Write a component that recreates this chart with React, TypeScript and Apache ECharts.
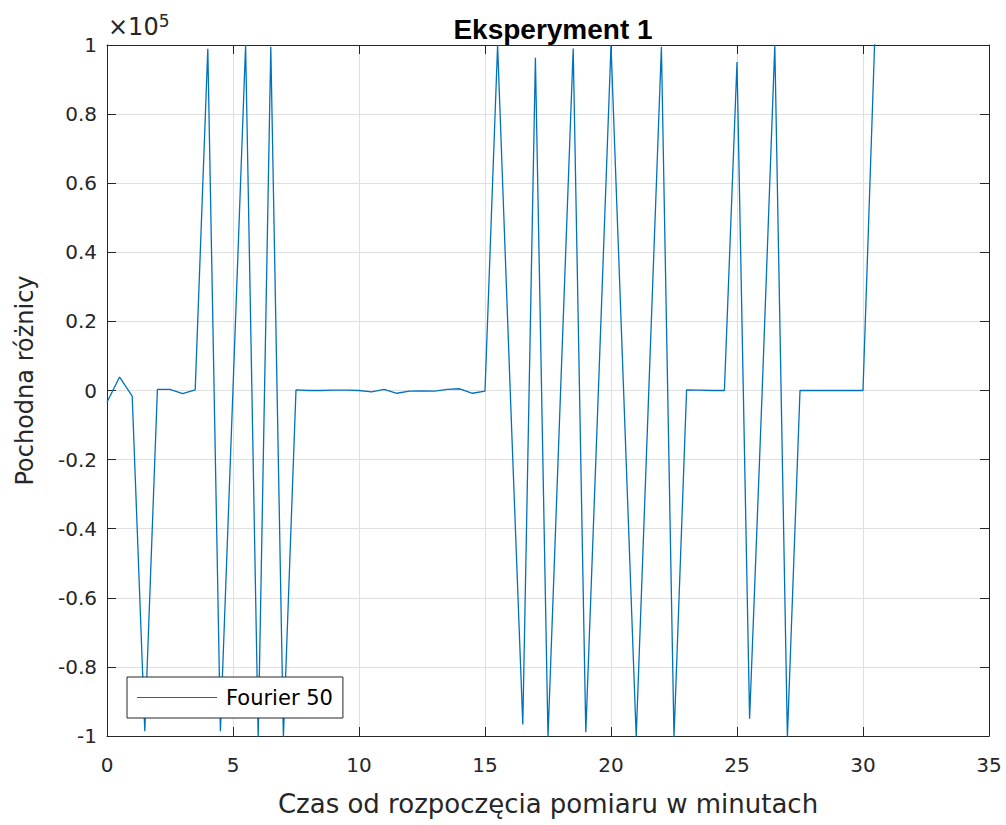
import React, { useEffect, useRef } from "react";
import * as echarts from "echarts";

const times: number[] = [
  0, 0.5, 1, 1.5, 2, 2.5, 3, 3.5, 4, 4.5, 5, 5.5, 6, 6.5, 7, 7.5, 8, 8.5, 9, 9.5,
  10, 10.5, 11, 11.5, 12, 12.5, 13, 13.5, 14, 14.5, 15, 15.5, 16, 16.5, 17, 17.5,
  18, 18.5, 19, 19.5, 20, 20.5, 21, 21.5, 22, 22.5, 23, 23.5, 24, 24.5, 25, 25.5,
  26, 26.5, 27, 27.5, 28, 28.5, 29, 29.5, 30, 30.5,
];

const fourier50: number[] = [
  -3400, 3900, -1600, -98600, 300, 300, -900, 200, 98900, -98600, 500, 100000,
  -100500, 99500, -100300, 200, 0, 0, 100, 100, 0, -400, 300, -800, -200, -100,
  -200, 300, 500, -800, -200, 100000, 0, -96700, 96300, -100300, 0, 99000, -98900,
  0, 100000, 0, -100300, 0, 99500, -100300, 200, 100, 0, 0, 95100, -95000, 0,
  100000, -100300, 0, 0, 0, 0, 0, 0, 109000,
];

const seriesName = "Fourier 50";
const titleText = "Eksperyment 1";
const xLabel = "Czas od rozpoczęcia pomiaru w minutach";
const yLabel = "Pochodna różnicy";

const FONT = "'DejaVu Sans', 'Liberation Sans', Arial, sans-serif";
const AX = "#262626";
const GRID = "#dfdfdf";

export default function App() {
  const ref = useRef<HTMLDivElement>(null);
  useEffect(() => {
    document.body.style.margin = "0";
    if (!ref.current) return;
    const chart = echarts.init(ref.current, undefined, { renderer: "svg" });
    const data = times.map((t, i) => [t, fourier50[i]]);
    const left = 107, right = 17, top = 45, bottom = 89;
    const tickCommon = {
      show: true,
      inside: true,
      length: 9,
      lineStyle: { color: AX, width: 1 },
    };
    chart.setOption({
      animation: false,
      backgroundColor: "#ffffff",
      title: {
        text: titleText,
        left: 548,
        top: 10,
        textAlign: "center",
        textStyle: {
          fontFamily: "'Liberation Sans', Arial, sans-serif",
          fontWeight: "bold",
          fontSize: 28,
          color: "#000",
        },
      },
      grid: { left, right, top, bottom, containLabel: false },
      legend: {
        left: 127,
        top: 677,
        orient: "horizontal",
        itemWidth: 80,
        itemHeight: 14,
        padding: [10, 10, 10, 10],
        borderColor: AX,
        borderWidth: 1,
        borderRadius: 0,
        backgroundColor: "#ffffff",
        textStyle: { fontFamily: FONT, fontSize: 21, color: "#000", padding: [0, 0, 0, 4] },
        data: [{ name: seriesName, icon: "path://M0,0 L80,0 L80,1 L0,1 Z" }],
      },
      xAxis: [
        {
          type: "value",
          min: 0,
          max: 35,
          interval: 5,
          position: "bottom",
          name: xLabel,
          nameLocation: "middle",
          nameGap: 55,
          nameTextStyle: { fontFamily: FONT, fontSize: 26, color: AX },
          axisLine: { show: true, onZero: false, lineStyle: { color: AX, width: 1 } },
          axisTick: tickCommon,
          axisLabel: { fontFamily: FONT, fontSize: 20, color: AX, margin: 19 },
          splitLine: { show: true, lineStyle: { color: GRID, width: 1 } },
        },
        {
          type: "value",
          min: 0,
          max: 35,
          interval: 5,
          position: "top",
          axisLine: { show: true, onZero: false, lineStyle: { color: AX, width: 1 } },
          axisTick: tickCommon,
          axisLabel: { show: false },
          splitLine: { show: false },
        },
      ],
      yAxis: [
        {
          type: "value",
          min: -100000,
          max: 100000,
          interval: 20000,
          position: "left",
          name: yLabel,
          nameLocation: "middle",
          nameGap: 70,
          nameRotate: 90,
          nameTextStyle: { fontFamily: FONT, fontSize: 24, color: AX, padding: [0, 0, 0, 20] },
          axisLine: { show: true, onZero: false, lineStyle: { color: AX, width: 1 } },
          axisTick: tickCommon,
          axisLabel: {
            fontFamily: FONT,
            fontSize: 20,
            color: AX,
            margin: 10,
            formatter: (v: number) => {
              if (v === 0) return "0";
              const s = Math.round(v / 10000) / 10;
              return String(s);
            },
          },
          splitLine: { show: true, lineStyle: { color: GRID, width: 1 } },
        },
        {
          type: "value",
          min: -100000,
          max: 100000,
          interval: 20000,
          position: "right",
          axisLine: { show: true, onZero: false, lineStyle: { color: AX, width: 1 } },
          axisTick: tickCommon,
          axisLabel: { show: false },
          splitLine: { show: false },
        },
      ],
      graphic: [
        {
          type: "text",
          left: 108,
          top: 12,
          style: {
            text: "×10{sup|5}",
            fontFamily: FONT,
            fontSize: 24,
            fill: AX,
            rich: {
              sup: {
                fontFamily: FONT,
                fontSize: 17,
                fill: AX,
                verticalAlign: "top",
                padding: [0, 0, 12, 0],
              },
            },
          },
        },
      ],
      series: [
        {
          name: seriesName,
          type: "line",
          data,
          xAxisIndex: 0,
          yAxisIndex: 0,
          showSymbol: false,
          symbol: "none",
          clip: true,
          lineStyle: { color: "#0072BD", width: 1.3 },
          itemStyle: { color: "#0072BD" },
        },
      ],
    });
    return () => chart.dispose();
  }, []);
  return <div ref={ref} style={{ width: 1006, height: 825 }} />;
}
